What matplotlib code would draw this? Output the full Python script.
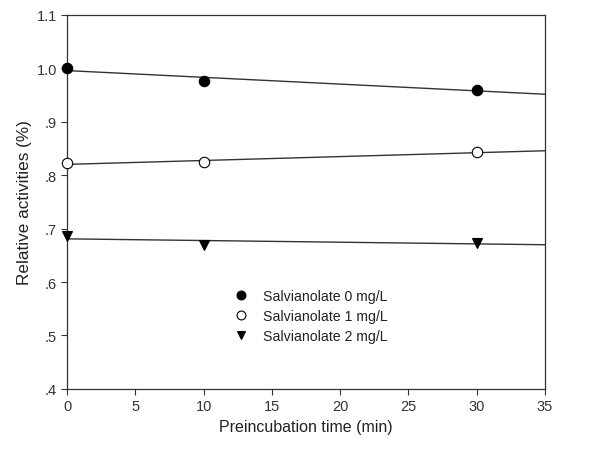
import numpy as np
import matplotlib
matplotlib.use("Agg")
import matplotlib.pyplot as plt

times = [0, 10, 30]
s0 = [1.000, 0.977, 0.960]
s1 = [0.822, 0.825, 0.843]
s2 = [0.686, 0.670, 0.674]
labels = ["Salvianolate 0 mg/L", "Salvianolate 1 mg/L", "Salvianolate 2 mg/L"]
yticks = [0.4, 0.5, 0.6, 0.7, 0.8, 0.9, 1.0, 1.1]
ytick_labels = [".4", ".5", ".6", ".7", ".8", ".9", "1.0", "1.1"]
xticks = [0, 5, 10, 15, 20, 25, 30, 35]

plt.rcParams['font.family'] = ['Liberation Sans', 'DejaVu Sans']
fig = plt.figure(figsize=(6, 4.56), dpi=100)
ax = fig.add_axes([0.112, 0.145, 0.796, 0.820])

xfit = np.array([0, 35])
styles = [dict(marker='o', mfc='black', mec='black'),
          dict(marker='o', mfc='white', mec='black'),
          dict(marker='v', mfc='black', mec='black')]
handles = []
for ys, st, lab in zip([s0, s1, s2], styles, labels):
    k, b = np.polyfit(times, ys, 1)
    ax.plot(xfit, k * xfit + b, color='#333333', lw=1.0, zorder=2)
    h, = ax.plot(times, ys, linestyle='none', markersize=7.5, mew=0.8,
                 label=lab, zorder=3, clip_on=False, **st)
    handles.append(h)

ax.set_xlim(0, 35)
ax.set_ylim(0.4, 1.1)
ax.set_xticks(xticks)
ax.set_yticks(yticks)
ax.set_yticklabels(ytick_labels)
ax.tick_params(direction='out', length=4, width=0.8, labelsize=10.5, colors='#333333', labelcolor='#333333')
for sp in ax.spines.values():
    sp.set_color('#333333')
    sp.set_linewidth(0.9)
ax.set_xlabel("Preincubation time (min)", fontsize=11.5, color='#222222')
ax.set_ylabel("Relative activities (%)", fontsize=12.3, color='#222222', labelpad=3)

leg = ax.legend(handles=handles, loc='upper left', bbox_to_anchor=(0.322, 0.30),
                frameon=False, fontsize=10.2, handlelength=1.0, handletextpad=1.1,
                labelspacing=0.4, numpoints=1, markerscale=0.85)
for t in leg.get_texts():
    t.set_color('#222222')

fig.savefig("out.png", dpi=100)
